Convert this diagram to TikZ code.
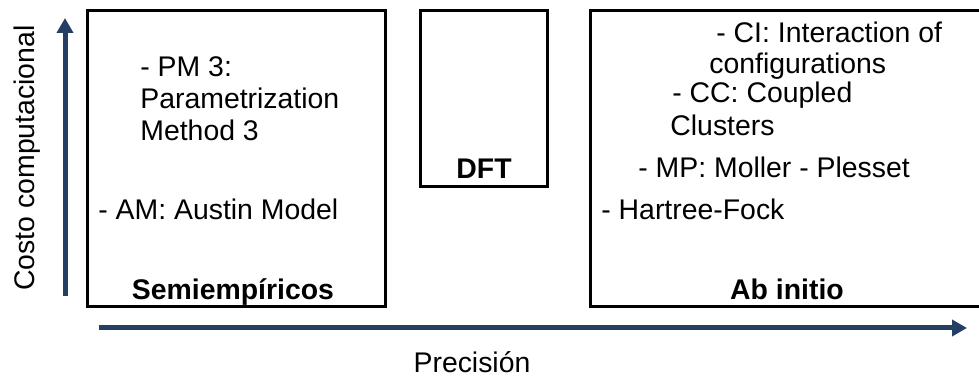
\documentclass[tikz,border=0pt]{standalone}
\usepackage{fontspec}
\setmainfont{Liberation Sans}
\usetikzlibrary{arrows.meta, positioning}
\definecolor{axisblue}{RGB}{36,63,99}
\tikzset{
  label/.style={inner sep=0pt, anchor=base west, font=\fontsize{14.2}{16}\selectfont},
  title/.style={inner sep=0pt, anchor=base, font=\fontsize{14.2}{16}\selectfont\bfseries},
  axis/.style={line width=2.5pt, color=axisblue, -{Triangle[length=7.5pt, width=8pt]}}
}

\begin{document}
\begin{tikzpicture}[x=0.5pt, y=-0.5pt]
\useasboundingbox (0,0) rectangle (979,378);
%the three boxes
\draw[line width=1.5pt] (87,11) rectangle (385,307);
\draw[line width=1.5pt] (420,11) rectangle (547,187);
\draw[line width=1.5pt] (590,11) rectangle (995,307);
%text in the left box
\node[label] (pm1) at (140,77) {- PM 3:};
\node[label] (pm2) at (140,109) {Parametrization};
\node[label] (pm3) at (140,141) {Method 3};
\node[label] (am) at (98,220) {- AM: Austin Model};
\node[title] (semi) at (233,300) {Semiempíricos};
%middle box
\node[title] (dft) at (484,179) {DFT};
%text in the right box
\node[label] (ci1) at (716,43) {- CI: Interaction of};
\node[label] (ci2) at (709,74) {configurations};
\node[label] (cc1) at (672,103) {- CC: Coupled};
\node[label] (cc2) at (670,136) {Clusters};
\node[label] (mp) at (638,178) {- MP: Moller - Plesset};
\node[label] (hf) at (601,220) {- Hartree-Fock};
\node[title] (abinit) at (787,300) {Ab initio};
%axes
\coordinate (yfoot) at (65,296);
\coordinate (ytip) at (65,18);
\coordinate (xfoot) at (99,328);
\coordinate (xtip) at (967,328);
\draw[axis] (yfoot) -- (ytip);
\draw[axis] (xfoot) -- (xtip);
\node[label, anchor=base, rotate=90] (cost) at (34,158) {Costo computacional};
\node[label, anchor=base] (prec) at (472,373) {Precisión};
\end{tikzpicture}
\end{document}
